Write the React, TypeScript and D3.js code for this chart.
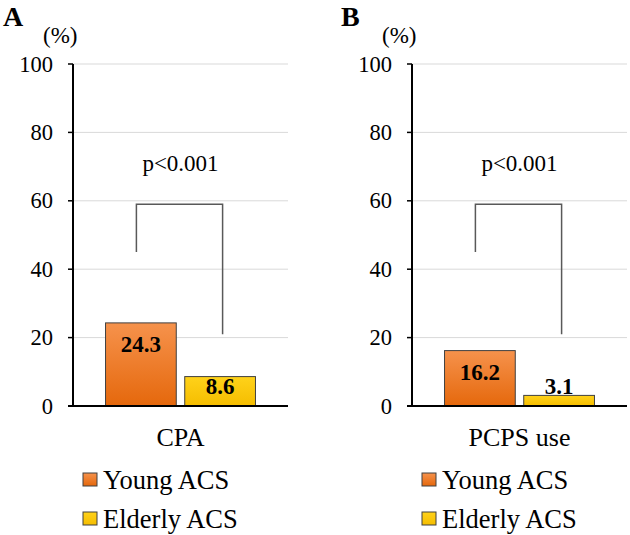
import React from 'react';
import * as d3 from 'd3';

// chart data
const panels = ['A', 'B'];
const categories = ['CPA', 'PCPS use'];
const groups = ['Young ACS', 'Elderly ACS'];
const youngValues = [24.3, 16.2];
const elderlyValues = [8.6, 3.1];
const pValues = ['p<0.001', 'p<0.001'];
const yTicks = [0, 20, 40, 60, 80, 100];
// bracket: top, left leg end, right leg end (in % units)
const bracketTop = [59, 59];
const bracketLeft = [45, 45];
const bracketRight = [21, 21];

const W = 630, H = 535;
const FONT = "'Liberation Serif', 'Times New Roman', Times, serif";
const panelOffset = 339;
const plotLeft = 73, plotRight = 288;

const App = () => {
  const y = d3.scaleLinear().domain([0, 100]).range([406, 64]);
  const xBand = d3.scaleBand().domain(['cat']).range([plotLeft, plotRight]).paddingInner(0).paddingOuter(0.217);
  const xGroup = d3.scaleBand().domain(groups).range([0, xBand.bandwidth()]).paddingInner(0.107);
  const gradIds = ['gradYoung', 'gradElderly'];
  const txt = { fontFamily: FONT };

  return (
    <svg width={W} height={H} style={{ position: 'absolute', left: 0, top: 0, background: '#fff', fontFamily: FONT }}>
      <defs>
        <linearGradient id="gradYoung" x1="0" y1="0" x2="0" y2="1">
          <stop offset="0%" stopColor="#f6924c" />
          <stop offset="100%" stopColor="#e5680c" />
        </linearGradient>
        <linearGradient id="gradElderly" x1="0" y1="0" x2="0" y2="1">
          <stop offset="0%" stopColor="#ffd21a" />
          <stop offset="100%" stopColor="#f5bd00" />
        </linearGradient>
      </defs>
      {panels.map((panel, pi) => {
        const vals = [youngValues[pi], elderlyValues[pi]];
        const x0 = xBand('cat')!;
        const cx = x0 + xBand.bandwidth() / 2;
        const barCenters = groups.map(g => x0 + xGroup(g)! + xGroup.bandwidth() / 2);
        return (
          <g key={panel} transform={`translate(${pi * panelOffset},0)`}>
            <text style={txt} x={pi === 0 ? 3 : 2} y={26} fontSize={28} fontWeight="bold">{panel}</text>
            <text style={txt} x={43} y={43} fontSize={23}>(%)</text>
            {/* grid */}
            {yTicks.filter(t => t > 0).map(t => (
              <line key={t} x1={plotLeft} x2={plotRight} y1={y(t)} y2={y(t)} stroke="#d9d9d9" strokeWidth={1} />
            ))}
            {/* y ticks */}
            {yTicks.map(t => (
              <g key={'t' + t}>
                <line x1={plotLeft - 5} x2={plotLeft} y1={y(t)} y2={y(t)} stroke="#000" strokeWidth={1.5} />
                <text style={txt} x={53} y={y(t) + 7.5} fontSize={22.5} textAnchor="end">{t}</text>
              </g>
            ))}
            {/* bars */}
            {groups.map((g, gi) => (
              <rect key={g} x={x0 + xGroup(g)!} width={xGroup.bandwidth()} y={y(vals[gi])}
                height={y(0) - y(vals[gi])} fill={`url(#${gradIds[gi]})`} stroke="#404040" strokeWidth={1} />
            ))}
            {groups.map((g, gi) => (
              <text style={txt} key={'l' + g} x={barCenters[gi]} y={Math.min(y(vals[gi]) + 29, 394)} fontSize={23}
                fontWeight="bold" textAnchor="middle">{vals[gi].toFixed(1)}</text>
            ))}
            {/* axes */}
            <line x1={plotLeft} x2={plotLeft} y1={y(100)} y2={y(0)} stroke="#000" strokeWidth={2} />
            <line x1={plotLeft - 5} x2={plotRight} y1={y(0)} y2={y(0)} stroke="#000" strokeWidth={2} />
            {/* significance bracket */}
            <path d={`M${barCenters[0] - 4.5},${y(bracketLeft[pi])} V${y(bracketTop[pi])} H${barCenters[1] + 2.5} V${y(bracketRight[pi])}`}
              fill="none" stroke="#595959" strokeWidth={1.5} />
            <text style={txt} x={cx} y={171} fontSize={23} textAnchor="middle">{pValues[pi]}</text>
            <text style={txt} x={cx} y={446} fontSize={26} textAnchor="middle">{categories[pi]}</text>
            {/* legend */}
            {groups.map((g, gi) => (
              <g key={'lg' + g} transform={`translate(83,${473 + gi * 39})`}>
                <rect x={0} y={0} width={14} height={13} fill={`url(#${gradIds[gi]})`} stroke="#404040" strokeWidth={1} />
                <text style={txt} x={20} y={15.5} fontSize={26.5}>{g}</text>
              </g>
            ))}
          </g>
        );
      })}
    </svg>
  );
};

export default App;
